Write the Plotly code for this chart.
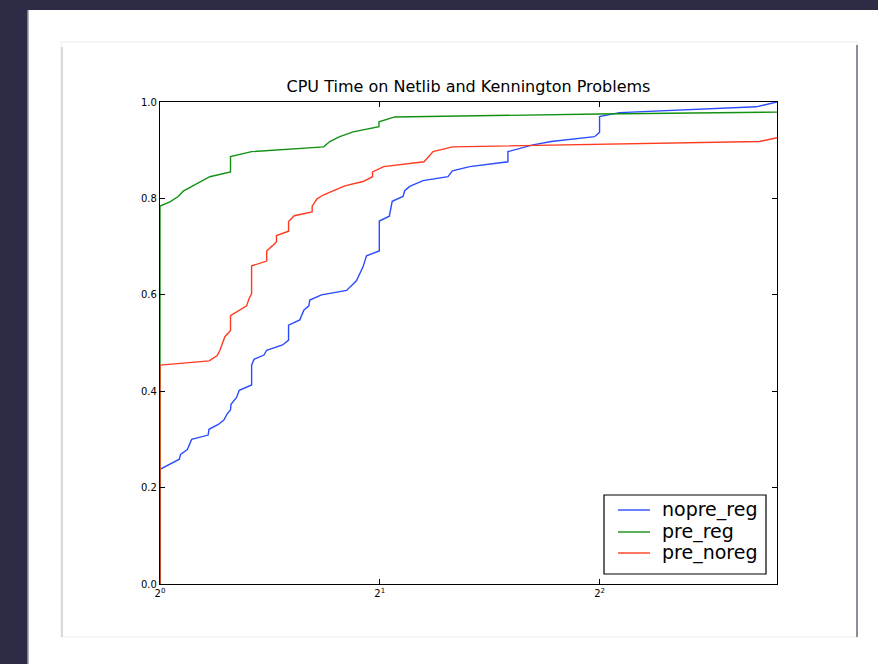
import plotly.graph_objects as go
import math

title = "CPU Time on Netlib and Kennington Problems"
series_names = ["nopre_reg", "pre_reg", "pre_noreg"]
series_colors = ["#2a4cff", "#139013", "#ff3b1f"]

# nopre_reg
x_nopre_reg = [1.0, 1.0, 1.063, 1.067, 1.090, 1.105, 1.164, 1.167, 1.202, 1.223, 1.236, 1.249,
               1.251, 1.273, 1.284, 1.335, 1.335, 1.345, 1.388, 1.400, 1.472, 1.500, 1.500,
               1.554, 1.574, 1.599, 1.604, 1.664, 1.801, 1.858, 1.897, 1.918, 1.997, 1.997,
               2.061, 2.080, 2.152, 2.164, 2.198, 2.292, 2.480, 2.515, 2.656, 2.996, 2.996,
               3.242, 3.435, 3.937, 4.0, 4.0, 4.260, 6.554, 7.0]
y_nopre_reg = [0.0, 0.238, 0.259, 0.269, 0.279, 0.300, 0.309, 0.321, 0.331, 0.340, 0.353, 0.361,
               0.373, 0.387, 0.402, 0.413, 0.454, 0.466, 0.475, 0.485, 0.496, 0.506, 0.537,
               0.548, 0.568, 0.577, 0.589, 0.600, 0.609, 0.629, 0.658, 0.681, 0.691, 0.753,
               0.763, 0.794, 0.804, 0.816, 0.825, 0.837, 0.845, 0.857, 0.866, 0.876, 0.897,
               0.911, 0.918, 0.928, 0.937, 0.970, 0.978, 0.990, 1.0]

# pre_reg
x_pre_reg = [1.0, 1.0, 1.032, 1.059, 1.076, 1.140, 1.170, 1.249, 1.249, 1.335, 1.676, 1.708,
             1.763, 1.839, 1.995, 1.995, 2.097, 4.0, 7.0]
y_pre_reg = [0.0, 0.784, 0.793, 0.804, 0.815, 0.835, 0.845, 0.855, 0.887, 0.897, 0.907, 0.918,
             0.928, 0.938, 0.949, 0.959, 0.969, 0.975, 0.979]

# pre_noreg
x_pre_noreg = [1.0, 1.0, 1.168, 1.198, 1.208, 1.223, 1.227, 1.249, 1.249, 1.314, 1.325, 1.335,
               1.335, 1.400, 1.400, 1.426, 1.444, 1.444, 1.500, 1.500, 1.527, 1.616, 1.616,
               1.641, 1.673, 1.791, 1.897, 1.955, 1.955, 2.025, 2.300, 2.366, 2.515, 6.62, 7.0]
y_pre_noreg = [0.0, 0.454, 0.463, 0.474, 0.485, 0.506, 0.513, 0.526, 0.557, 0.577, 0.593, 0.602,
               0.660, 0.670, 0.691, 0.702, 0.710, 0.723, 0.732, 0.752, 0.764, 0.772, 0.784,
               0.799, 0.807, 0.826, 0.835, 0.845, 0.855, 0.866, 0.876, 0.897, 0.907, 0.918, 0.926]

x_tickvals = [1, 2, 4]
x_ticktext = ["2<sup>0</sup>", "2<sup>1</sup>", "2<sup>2</sup>"]
y_tickvals = [0.0, 0.2, 0.4, 0.6, 0.8, 1.0]
y_ticktext = ["0.0", "0.2", "0.4", "0.6", "0.8", "1.0"]
x_max = 7.0

W, H = 878, 664
font = "DejaVu Sans"


def px(v):
    return v / W


def py(v):
    return 1 - v / H


fig = go.Figure()
for name, color, xs, ys in zip(series_names, series_colors,
                               [x_nopre_reg, x_pre_reg, x_pre_noreg],
                               [y_nopre_reg, y_pre_reg, y_pre_noreg]):
    fig.add_trace(go.Scatter(x=xs, y=ys, mode="lines", name=name, showlegend=False,
                             line=dict(color=color, width=1.4)))

shapes = [
    # white outer panel
    dict(type="rect", xref="paper", yref="paper", x0=px(28), x1=1.0, y0=0, y1=py(10),
         fillcolor="white", line=dict(width=0), layer="below"),
    dict(type="line", xref="paper", yref="paper", x0=px(28), x1=px(28), y0=0, y1=py(10),
         line=dict(color="#9a98a8", width=1.5), layer="below"),
    # inner card
    dict(type="rect", xref="paper", yref="paper", x0=px(61), x1=px(857), y0=py(637), y1=py(42),
         fillcolor="white", line=dict(color="#ececec", width=1), layer="below"),
    dict(type="line", xref="paper", yref="paper", x0=px(62), x1=px(62), y0=py(637), y1=py(47),
         line=dict(color="#cfcfcf", width=1.5), layer="below"),
    dict(type="line", xref="paper", yref="paper", x0=px(857), x1=px(857), y0=py(637), y1=py(45),
         line=dict(color="#6a6878", width=1.5), layer="below"),
    # legend box
    dict(type="rect", xref="paper", yref="paper", x0=px(604), x1=px(766), y0=py(574), y1=py(495),
         fillcolor="white", line=dict(color="black", width=1.2), layer="above"),
]

annotations = []
legend_rows = [510, 532, 553]
for name, color, row in zip(series_names, series_colors, legend_rows):
    shapes.append(dict(type="line", xref="paper", yref="paper", x0=px(618), x1=px(650),
                       y0=py(row), y1=py(row), line=dict(color=color, width=1.4), layer="above"))
    annotations.append(dict(text=name, xref="paper", yref="paper", x=px(660), y=py(row - 1),
                            xanchor="left", yanchor="middle", showarrow=False,
                            font=dict(family=font, size=19, color="black")))

fig.update_layout(
    width=W, height=H,
    autosize=False,
    margin=dict(l=0, r=0, t=0, b=0, pad=0, autoexpand=False),
    paper_bgcolor="#2e2b47",
    plot_bgcolor="white",
    shapes=shapes,
    annotations=annotations,
    showlegend=False,
    title=dict(text=title, x=px(468.5), xanchor="center", y=py(86), yanchor="middle",
               font=dict(family=font, size=16, color="black")),
    font=dict(family=font, color="black"),
    xaxis=dict(type="log", range=[0, math.log10(x_max)], domain=[px(160), px(777)],
               tickvals=x_tickvals, ticktext=x_ticktext, ticks="inside", ticklen=5,
               tickcolor="black", showline=True, linecolor="black", linewidth=1.2,
               mirror="ticks", showgrid=False, zeroline=False, automargin=False,
               tickfont=dict(family=font, size=10, color="black")),
    yaxis=dict(range=[0, 1], domain=[py(584), py(102)],
               tickvals=y_tickvals, ticktext=y_ticktext, ticks="inside", ticklen=5,
               tickcolor="black", showline=True, linecolor="black", linewidth=1.2,
               mirror="ticks", showgrid=False, zeroline=False, automargin=False,
               tickfont=dict(family=font, size=10, color="black")),
)

fig.write_html("out.html",
               config={"displayModeBar": False, "responsive": False},
               post_script="document.body.style.margin='0';document.body.style.overflow='hidden';")
